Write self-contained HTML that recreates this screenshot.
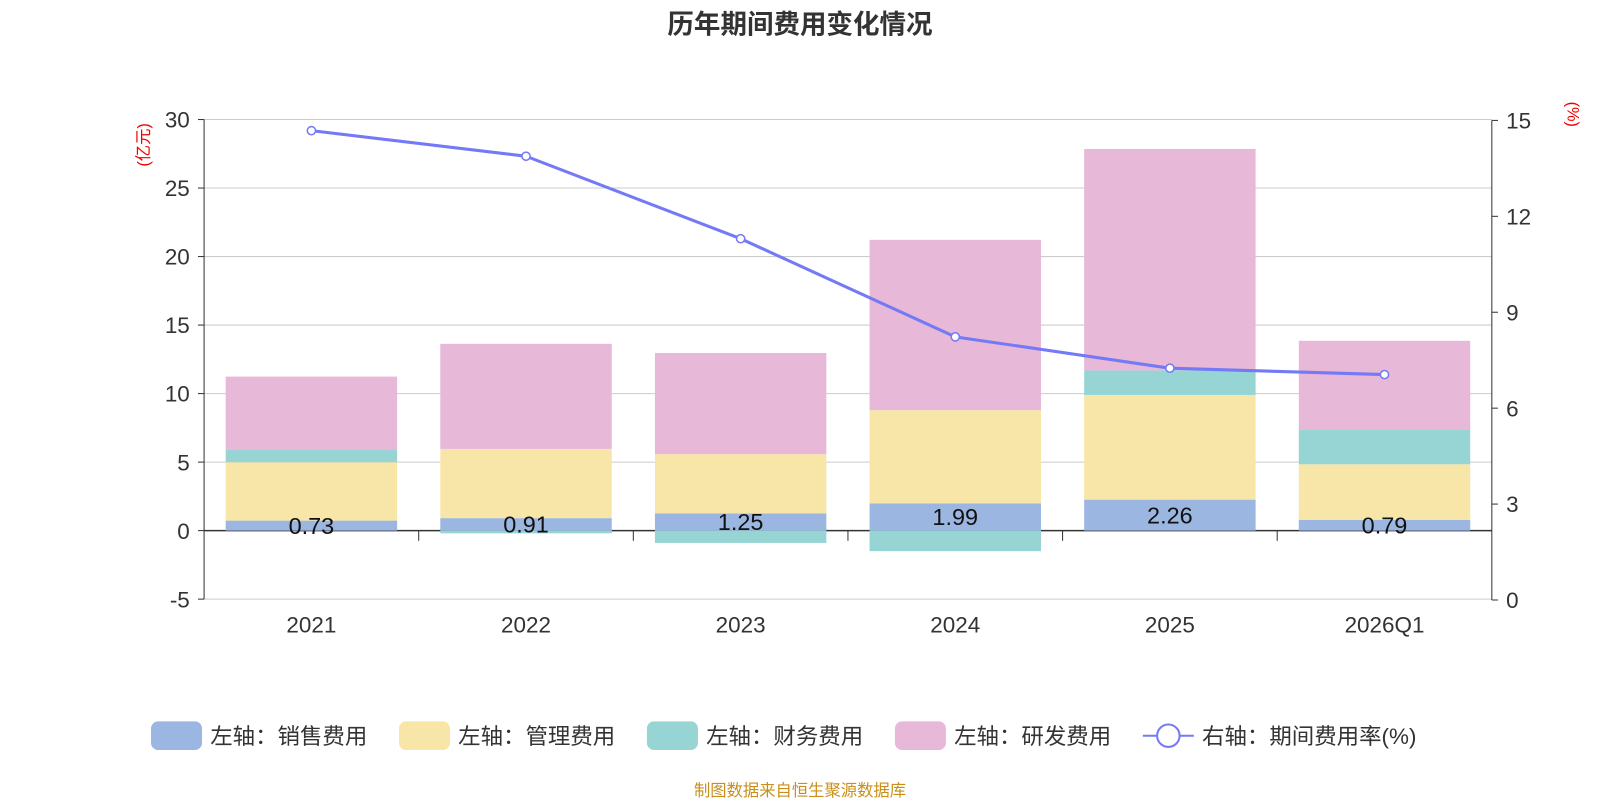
<!DOCTYPE html>
<html><head><meta charset="utf-8"><style>
body{margin:0;background:#fff;}
svg{display:block;font-family:"Liberation Sans","Noto Sans CJK SC",sans-serif;}
</style></head><body>
<svg id="c" width="1600" height="800" viewBox="0 0 1600 800">
<g transform="scale(1.0204)">
<text x="784" y="33" text-anchor="middle" font-size="26" font-weight="bold" fill="#333">历年期间费用变化情况</text>
<text transform="translate(146,142) rotate(-90)" text-anchor="middle" font-size="16" fill="#e00">(亿元)</text>
<text transform="translate(1536,112) rotate(90)" text-anchor="middle" font-size="16" fill="#e00">(%)</text>
<g id="grid"></g><g id="bars"></g><g id="axes"></g><g id="line"></g>
<g id="legend" font-size="22" fill="#333"></g>
<text x="784" y="780" text-anchor="middle" font-size="16" fill="#c8901a">制图数据来自恒生聚源数据库</text>
</g>
</svg>
<script>
const categories=["2021","2022","2023","2024","2025","2026Q1"];
const sales=[0.73,0.91,1.25,1.99,2.26,0.79];
const mgmt=[4.26,5.05,4.33,6.80,7.64,4.05];
const finance=[0.89,-0.20,-0.90,-1.50,1.79,2.53];
const rnd=[5.36,7.67,7.38,12.43,16.16,6.48];
const rate=[14.68,13.88,11.30,8.23,7.25,7.05];
const leftTicks=[-5,0,5,10,15,20,25,30];
const rightTicks=[0,3,6,9,12,15];
const NS="http://www.w3.org/2000/svg";
const X0=200,X1=1462,band=(X1-X0)/categories.length,bw=168;
const yL=v=>520-v*(470/35);
const yR=v=>588-v*(470/15);
const xc=i=>X0+band*(i+0.5);
function mk(tag,attrs,parent){const e=document.createElementNS(NS,tag);for(const k in attrs)e.setAttribute(k,attrs[k]);parent.appendChild(e);return e;}
const grid=document.getElementById('grid'),bars=document.getElementById('bars'),axes=document.getElementById('axes'),line=document.getElementById('line'),lg=document.getElementById('legend');
leftTicks.forEach(t=>{
 const l=mk('line',{x1:X0,x2:X1,y1:yL(t),y2:yL(t),stroke:t===0?'#333':'#ccc','stroke-width':t===0?1.5:1},grid);
 
 
 const tx=mk('text',{x:X0-14,y:yL(t)+8,'text-anchor':'end','font-size':22,fill:'#333'},axes);tx.textContent=t;
 
 
 mk('line',{x1:X0-6,x2:X0,y1:yL(t),y2:yL(t),stroke:'#333'},axes);
});
rightTicks.forEach(t=>{
 const tx=mk('text',{x:X1+14,y:yR(t)+8,'font-size':22,fill:'#333'},axes);tx.textContent=t;
 
 
 mk('line',{x1:X1,x2:X1+6,y1:yR(t),y2:yR(t),stroke:'#333'},axes);
});
mk('line',{x1:X0,x2:X0,y1:yL(30),y2:yL(-5),stroke:'#333'},axes);
mk('line',{x1:X1,x2:X1,y1:yR(15),y2:yR(0),stroke:'#333'},axes);
categories.forEach((c,i)=>{
 const tx=mk('text',{x:xc(i),y:620,'text-anchor':'middle','font-size':22,fill:'#333'},axes);tx.textContent=c;
 
 
 if(i>0)mk('line',{x1:X0+band*i,x2:X0+band*i,y1:520,y2:530,stroke:'#333'},axes);
});
const series=[[sales,'#9bb6e0','sales'],[mgmt,'#f7e6a8','mgmt'],[finance,'#97d4d4','finance'],[rnd,'#e7b8d8','rnd']];
categories.forEach((c,i)=>{
 let pos=0,neg=0;
 series.forEach(([arr,col,nm])=>{
  const v=arr[i];let a,b;
  if(v>=0){a=pos;b=pos+v;pos=b;}else{a=neg;b=neg+v;neg=b;}
  const r=mk('rect',{x:xc(i)-bw/2,width:bw,y:Math.min(yL(a),yL(b)),height:Math.abs(yL(a)-yL(b)),fill:col},bars);
  
  
 });
 const t=mk('text',{x:xc(i),y:(yL(0)+yL(sales[i]))/2+8,'text-anchor':'middle','font-size':23,fill:'#111'},bars);
 t.textContent=sales[i].toFixed(2);
 
 
});
const pts=rate.map((v,i)=>xc(i)+','+yR(v)).join(' ');
const pl=mk('polyline',{points:pts,fill:'none',stroke:'#7479f5','stroke-width':3},line);


rate.forEach((v,i)=>{
 const p=mk('circle',{cx:xc(i),cy:yR(v),r:4,fill:'#fff',stroke:'#7479f5','stroke-width':1.5},line);
 
 
});
const leg=[['左轴：销售费用','#9bb6e0',148],['左轴：管理费用','#f7e6a8',391],['左轴：财务费用','#97d4d4',634],['左轴：研发费用','#e7b8d8',877]];
leg.forEach(([t,col,x])=>{
 const g=mk('g',{},lg);
 
 
 mk('rect',{x:x,y:707,width:50,height:28,rx:7,fill:col},g);
 const tx=mk('text',{x:x+58,y:729},g);tx.textContent=t;
});
const g5=mk('g',{},lg);


mk('line',{x1:1120,x2:1170,y1:721,y2:721,stroke:'#7479f5','stroke-width':2},g5);
mk('circle',{cx:1145,cy:721,r:11,fill:'#fff',stroke:'#7479f5','stroke-width':2},g5);
const t5=mk('text',{x:1178,y:729},g5);t5.textContent='右轴：期间费用率(%)';
</script>
</body></html>
